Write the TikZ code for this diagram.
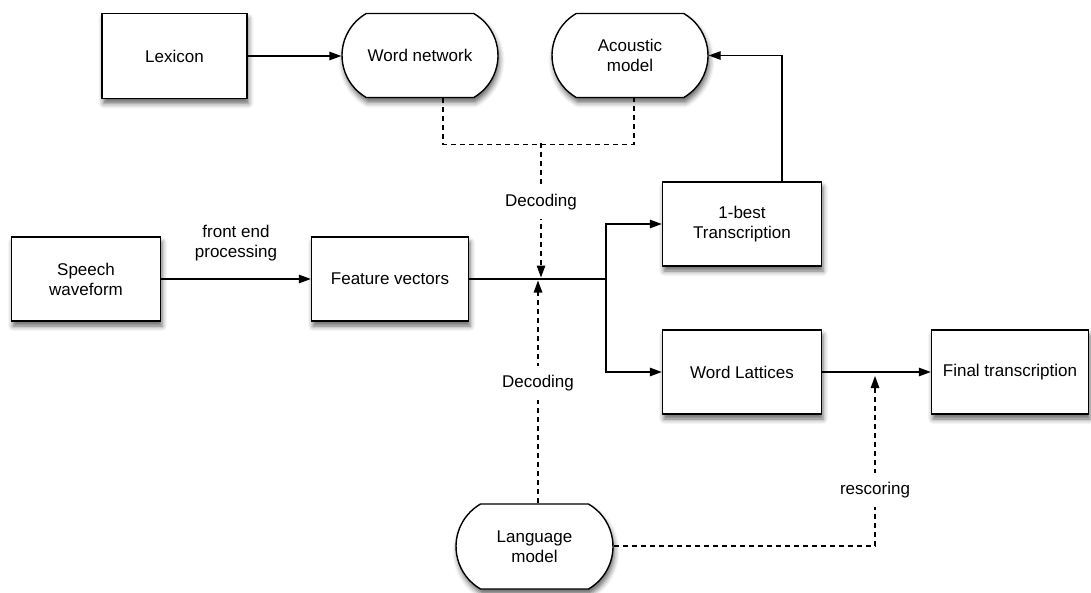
\documentclass[tikz,border=0pt]{standalone}
\usepackage{fontspec}
\setmainfont{Liberation Sans}
\usetikzlibrary{arrows.meta,shapes.misc,shadows.blur}
\tikzset{
  every node/.style={font=\fontsize{17}{20}\selectfont},
  box/.style={draw=black, line width=1.4pt, fill=white, rectangle, inner sep=0pt,
    minimum width=157pt, minimum height=84pt, align=center,
    blur shadow={shadow xshift=1.5pt, shadow yshift=-5pt, shadow blur radius=5pt, shadow opacity=60}},
  store/.style={box, rounded rectangle, rounded rectangle arc length=120},
  arr/.style={line width=1.4pt, -{Triangle[length=12pt,width=8.5pt]}},
  dsh/.style={line width=1.3pt, dash pattern=on 5pt off 4pt},
  darr/.style={dsh, -{Triangle[length=12pt,width=8.5pt]}},
  lbl/.style={fill=white, inner xsep=2pt, inner ysep=9pt}
}
\begin{document}
\begin{tikzpicture}[x=1pt,y=-1pt]
\useasboundingbox (0,0) rectangle (1091,592);
% nodes
\node[box, minimum width=145pt, minimum height=85pt] (lex) at (174.5,56) {Lexicon};
\node[store, minimum width=156pt] (wn) at (420,55.5) {Word network};
\node[store, minimum width=156pt] (am) at (630,55.5) {Acoustic\\model};
\node[box, minimum width=149pt] (sw) at (86,279) {Speech\\waveform};
\node[box] (fv) at (390,279) {Feature vectors};
\node[box, minimum width=159pt] (best) at (742,224) {1-best\\Transcription};
\node[box, minimum width=159pt] (wl) at (742,372) {Word Lattices};
\node[box] (ft) at (1010,372) {Final transcription};
\node[store, minimum height=85pt] (lm) at (534.5,546.5) {Language\\model};
% helper coordinates
\coordinate (split) at (606,279);
\coordinate (dj) at (541,143);
\coordinate (tipd) at (541,277.5);
\coordinate (tipu) at (538,280.5);
\coordinate (rc) at (875,546);
\coordinate (tipr) at (875,376);
% connectors
\draw[arr] (lex.east) -- (lex.east -| wn.west);
\draw[arr] (sw) -- node[above=14pt, align=center] {front end\\processing} (fv);
\draw[line width=1.4pt] (fv.east) -- (split);
\draw[arr] (split) |- (best.west);
\draw[arr] (split) |- (wl.west);
\draw[arr] ([xshift=40pt]best.north) |- (am.east);
\draw[arr] (wl) -- (ft);
\draw[dsh] ([xshift=23pt]wn.south) -- ++(0,46) -| ([xshift=4pt]am.south);
\draw[darr] (dj) -- node[lbl, pos=0.44] {Decoding} (tipd);
\draw[darr] (lm.north -| tipu) -- node[lbl, pos=0.54] {Decoding} (tipu);
\draw[dsh] (lm.east |- rc) -- (rc);
\draw[darr] (rc) -- node[lbl, pos=0.33] {rescoring} (tipr);
\end{tikzpicture}
\end{document}
